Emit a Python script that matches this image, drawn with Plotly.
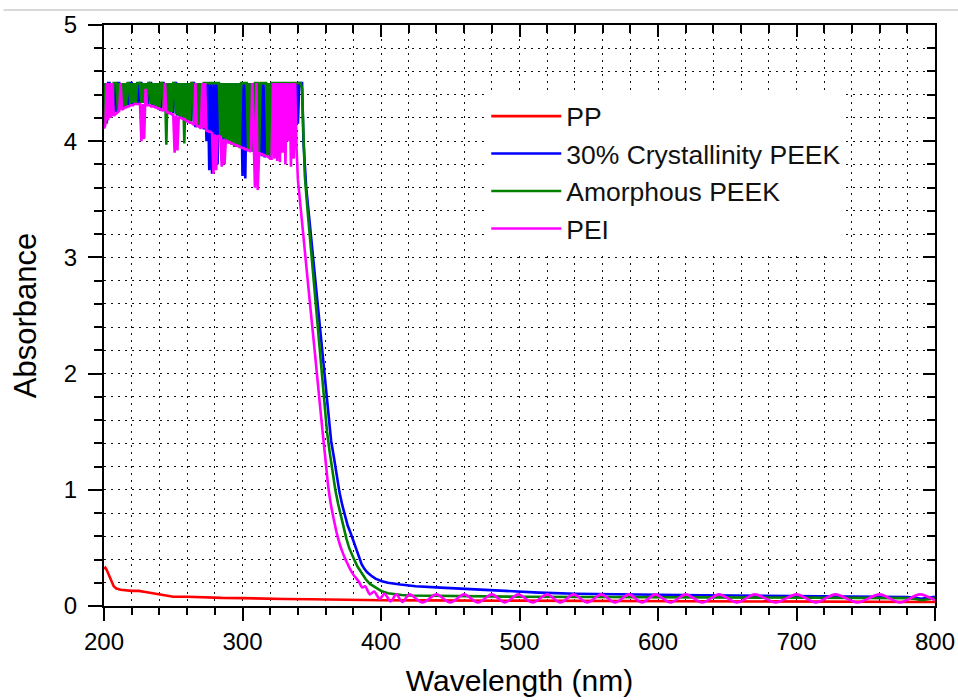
import plotly.graph_objects as go

# ---------------- data ----------------
# PP (red)
wl_pp = [200, 201, 202, 203, 205, 207, 209, 212, 220, 225, 230, 235, 240, 245, 250, 260, 270,
         285, 300, 315, 330, 350, 365, 380, 400, 430, 500, 600, 700, 800]
abs_pp = [0.32, 0.33, 0.31, 0.28, 0.22, 0.17, 0.15, 0.14, 0.13, 0.13, 0.12, 0.11, 0.10, 0.09,
          0.08, 0.08, 0.075, 0.07, 0.068, 0.063, 0.06, 0.058, 0.055, 0.05, 0.05, 0.048, 0.045,
          0.04, 0.038, 0.035]

# 30% Crystallinity PEEK (blue)
wl_peek30 = list(range(200, 344)) + [344, 346, 348, 350, 352, 354, 356, 358, 360, 362, 364, 366,
                                     368, 370, 372, 374, 376, 378, 380, 382, 384, 386, 388, 390,
                                     393, 396, 400, 405, 414, 425, 443, 464, 490, 514, 540, 564,
                                     600, 632, 664, 700, 730, 750, 770, 780, 786, 790, 795, 800]
abs_peek30 = [
    4.12, 4.5, 4.16, 4.5, 4.5, 4.21, 4.5, 4.23, 4.5, 4.25,
    4.5, 4.5, 4.28, 4.5, 4.29, 4.5, 4.3, 4.5, 4.31, 4.5,
    4.5, 4.32, 4.5, 4.33, 4.5, 4.33, 4.5, 4.5, 4.33, 4.5,
    4.32, 4.5, 4.32, 4.5, 4.5, 4.31, 4.5, 4.3, 4.5, 4.29,
    4.5, 4.28, 4.5, 4.5, 4.27, 4.5, 4.26, 4.5, 4.25, 4.5,
    4.24, 4.5, 4.5, 4.22, 4.5, 4.21, 4.5, 4.2, 4.5, 4.19,
    4.5, 4.18, 4.5, 4.17, 4.5, 4.5, 4.12, 4.5, 4.14, 4.5,
    4.12, 4.5, 4.1, 4.5, 4.0, 4.5, 3.75, 4.5, 3.72, 4.5,
    3.9, 4.5, 3.8, 4.5, 4.04, 4.5, 4.02, 4.5, 4.0, 4.5,
    3.99, 4.5, 3.98, 4.5, 3.97, 4.5, 3.96, 4.5, 3.95, 4.5,
    3.7, 4.5, 3.68, 4.5, 3.93, 4.5, 3.92, 4.5, 3.91, 4.5,
    3.95, 4.5, 3.9, 4.5, 3.87, 4.5, 3.86, 4.5, 3.88, 4.5,
    3.86, 4.5, 4.2, 4.5, 4.1, 4.5, 4.3, 4.5, 4.1, 4.5,
    4.35, 4.5, 4.2, 4.5, 4.1, 4.5, 4.12, 4.5, 4.1, 4.5,
    4.15, 4.5, 4.5, 4.5,
    4.0, 3.6, 3.36, 3.11, 2.87, 2.62, 2.37, 2.13, 1.88, 1.63, 1.42, 1.28,
    1.12, 0.98, 0.87, 0.77, 0.69, 0.63, 0.56, 0.49, 0.42, 0.36, 0.32, 0.29,
    0.26, 0.235, 0.215, 0.2, 0.185, 0.17, 0.158, 0.145, 0.128, 0.115, 0.106, 0.1,
    0.097, 0.093, 0.09, 0.087, 0.085, 0.082, 0.08, 0.078, 0.07, 0.062, 0.07, 0.08]

# Amorphous PEEK (green)
wl_peek_am = list(range(200, 344)) + [344, 345, 347, 349, 351, 353, 355, 357, 359, 361, 363, 365,
                                      367, 369, 371, 373, 375, 377, 379, 381, 383, 386, 389, 392,
                                      396, 400, 405, 410, 415, 420, 430, 445, 460, 480, 500, 550,
                                      600, 650, 700, 750, 780, 786, 790, 795, 800]
abs_peek_am = [
    4.12, 4.5, 4.15, 4.5, 4.2, 4.5, 4.22, 4.5, 4.5, 4.5,
    4.26, 4.5, 4.27, 4.5, 4.3, 4.5, 4.3, 4.5, 4.5, 4.32,
    4.5, 4.33, 4.5, 4.33, 4.5, 4.5, 4.5, 4.33, 4.5, 4.33,
    4.5, 4.32, 4.5, 4.5, 4.32, 4.5, 4.31, 4.5, 4.3, 4.5,
    4.29, 4.5, 4.5, 4.28, 4.5, 3.97, 4.5, 4.25, 4.5, 4.25,
    4.5, 4.5, 4.23, 4.5, 4.22, 4.5, 4.21, 4.5, 3.98, 4.5,
    4.18, 4.5, 4.17, 4.5, 4.5, 4.15, 4.5, 4.14, 4.5, 4.13,
    4.5, 4.12, 4.5, 4.5, 4.5, 4.5, 4.5, 4.5, 4.5, 4.5,
    4.5, 4.5, 4.5, 4.5, 4.05, 4.5, 4.03, 4.5, 4.0, 4.5,
    3.98, 4.5, 3.97, 4.5, 3.95, 4.5, 3.95, 4.5, 3.94, 4.5,
    4.5, 4.5, 4.5, 4.5, 3.93, 4.5, 3.92, 4.5, 3.91, 4.5,
    4.5, 4.5, 3.9, 4.5, 4.5, 4.5, 4.5, 4.5, 3.88, 4.5,
    3.87, 4.5, 4.5, 4.5, 4.5, 4.5, 4.5, 4.5, 4.5, 4.5,
    4.5, 4.5, 4.5, 4.5, 4.5, 4.5, 4.5, 4.5, 4.5, 4.5,
    4.5, 4.5, 4.5, 4.45,
    4.0, 3.7, 3.4, 3.13, 2.86, 2.59, 2.32, 2.04, 1.77, 1.5, 1.32, 1.15,
    1.0, 0.88, 0.77, 0.67, 0.58, 0.5, 0.44, 0.39, 0.34, 0.28, 0.23, 0.19,
    0.16, 0.13, 0.11, 0.1, 0.095, 0.09, 0.088, 0.085, 0.085, 0.082, 0.08, 0.078,
    0.075, 0.075, 0.072, 0.07, 0.068, 0.06, 0.05, 0.058, 0.068]

# PEI (magenta) - saturated / noisy part
wl_pei_noisy = list(range(200, 341))
abs_pei_noisy = [
    4.11, 4.14, 4.5, 4.18, 4.5, 4.2, 4.5, 4.22, 4.23, 4.24,
    4.25, 4.26, 4.5, 4.27, 4.28, 4.29, 4.29, 4.3, 4.3, 4.31,
    4.31, 4.31, 4.32, 4.32, 4.32, 4.32, 4.32, 4.0, 4.32, 4.02,
    4.45, 4.31, 4.31, 4.31, 4.3, 4.3, 4.3, 4.29, 4.29, 4.28,
    4.28, 4.27, 4.27, 4.26, 4.5, 4.25, 4.25, 4.24, 4.24, 4.23,
    4.23, 3.9, 4.22, 3.92, 4.21, 4.2, 4.2, 4.19, 4.19, 4.18,
    4.17, 4.17, 4.16, 4.16, 4.15, 4.14, 4.5, 4.13, 4.13, 4.12,
    4.11, 4.5, 4.11, 4.5, 4.09, 4.09, 4.08, 4.08, 4.07, 3.72,
    4.06, 3.75, 4.05, 4.04, 4.04, 3.78, 4.02, 3.8, 4.01, 4.0,
    3.99, 3.99, 3.98, 3.98, 3.97, 3.97, 3.96, 3.96, 3.95, 3.95,
    3.94, 3.94, 3.93, 3.93, 3.92, 3.92, 3.91, 4.5, 3.91, 3.6,
    4.5, 3.58, 3.9, 3.89, 3.89, 3.88, 3.88, 3.87, 3.87, 3.86,
    3.85, 3.85, 4.5, 3.85, 4.5, 3.83, 4.5, 3.82, 4.5, 3.9,
    4.5, 3.8, 4.5, 4.0, 4.5, 3.78, 4.5, 3.85, 4.5, 3.95,
    3.67]

# PEI (magenta) - absorption edge and interference fringes
wl_pei_tail = [340, 344, 348, 352, 356, 358, 360, 362, 364, 366, 368, 370, 372, 374, 376, 378,
               380, 382, 384, 386.5, 388.5, 392, 395, 399, 402.5, 407, 411, 415.5, 420.5, 430,
               440, 450, 460, 470, 480, 489.5, 499, 509.5, 520, 529.5, 539, 549, 559, 569, 579,
               588.5, 598, 609, 620, 632, 644, 657, 670, 685, 700, 714, 728, 744, 760, 774.5,
               789, 800]
abs_pei_tail = [3.67, 3.18, 2.69, 2.21, 1.72, 1.48, 1.25, 1.02, 0.86, 0.74, 0.63, 0.54, 0.47,
                0.41, 0.36, 0.31, 0.27, 0.24, 0.21, 0.16, 0.17, 0.1, 0.125, 0.06, 0.105, 0.04,
                0.1, 0.035, 0.1, 0.03, 0.1, 0.03, 0.1, 0.03, 0.1, 0.03, 0.1, 0.03, 0.1, 0.03,
                0.1, 0.03, 0.1, 0.03, 0.1, 0.03, 0.1, 0.03, 0.1, 0.03, 0.1, 0.03, 0.1, 0.03,
                0.1, 0.03, 0.1, 0.03, 0.1, 0.03, 0.1, 0.05]

x_ticks = [200, 300, 400, 500, 600, 700, 800]
y_ticks = [0, 1, 2, 3, 4, 5]

FONT = "Liberation Sans, Arial, Helvetica, sans-serif"
LW = 2.6

fig = go.Figure()
fig.add_trace(go.Scatter(x=wl_pp, y=abs_pp, mode="lines", name="PP",
                         line=dict(color="#ff0000", width=LW)))
fig.add_trace(go.Scatter(x=wl_peek30, y=abs_peek30, mode="lines", name="30% Crystallinity PEEK",
                         line=dict(color="#0000ff", width=LW)))
fig.add_trace(go.Scatter(x=wl_peek_am, y=abs_peek_am, mode="lines", name="Amorphous PEEK",
                         line=dict(color="#008000", width=LW)))
fig.add_trace(go.Scatter(x=wl_pei_noisy, y=abs_pei_noisy, mode="lines", name="PEI",
                         legendgroup="pei", line=dict(color="#ff00ff", width=LW)))
fig.add_trace(go.Scatter(x=wl_pei_tail, y=abs_pei_tail, mode="lines", name="PEI",
                         legendgroup="pei", showlegend=False,
                         line=dict(color="#ff00ff", width=LW, shape="spline", smoothing=0.8)))
# carrier for the mirrored (top / right) axes
fig.add_trace(go.Scatter(x=[None], y=[None], xaxis="x2", yaxis="y2", showlegend=False,
                         hoverinfo="skip"))

grid = dict(showgrid=True, gridcolor="#111111", griddash="2px,5px", gridwidth=1.3)

fig.update_layout(
    width=958, height=700,
    margin=dict(l=104, r=23, t=25, b=94),
    paper_bgcolor="white", plot_bgcolor="white",
    font=dict(family=FONT, color="black"),
    showlegend=True,
    legend=dict(x=0.46, y=0.884, xanchor="left", yanchor="top", bgcolor="white",
                font=dict(size=26.5, family=FONT, color="#111111"), itemwidth=70,
                tracegroupgap=0),
    xaxis=dict(range=[200, 800], tickvals=x_ticks, showline=True, linecolor="black",
               linewidth=2, ticks="outside", ticklen=13, tickwidth=2, tickcolor="black",
               zeroline=False, tickfont=dict(size=24, family=FONT), automargin=False,
               ticklabeloverflow="allow",
               minor=dict(dtick=20, ticks="outside", ticklen=7, tickwidth=2, tickcolor="black",
                          **grid),
               title=dict(text="Wavelength (nm)", font=dict(size=30, family=FONT), standoff=16),
               **grid),
    yaxis=dict(range=[0, 5], tickvals=y_ticks, showline=True, linecolor="black",
               linewidth=2, ticks="outside", ticklen=14, tickwidth=2, tickcolor="black",
               zeroline=False, tickfont=dict(size=24, family=FONT), ticklabelstandoff=6,
               automargin=False, ticklabeloverflow="allow",
               minor=dict(dtick=0.2, ticks="outside", ticklen=8, tickwidth=2, tickcolor="black",
                          **grid),
               title=dict(text="Absorbance", font=dict(size=31, family=FONT), standoff=18),
               **grid),
    xaxis2=dict(overlaying="x", side="top", range=[200, 800], tickvals=x_ticks,
                showline=True, linecolor="black", linewidth=2, ticks="inside", ticklen=12,
                tickwidth=2, tickcolor="black", showticklabels=False, showgrid=False,
                zeroline=False, automargin=False,
                minor=dict(dtick=20, ticks="inside", ticklen=8, tickwidth=2, tickcolor="black",
                           showgrid=False)),
    yaxis2=dict(overlaying="y", side="right", range=[0, 5], tickvals=y_ticks,
                showline=True, linecolor="black", linewidth=2, ticks="inside", ticklen=12,
                tickwidth=2, tickcolor="black", showticklabels=False, showgrid=False,
                zeroline=False, automargin=False,
                minor=dict(dtick=0.2, ticks="inside", ticklen=8, tickwidth=2, tickcolor="black",
                           showgrid=False)),
    shapes=[dict(type="line", xref="paper", yref="paper", x0=-0.121, x1=1.04, y0=1.026,
                 y1=1.026, line=dict(color="#cccccc", width=1.5))],
)

fig.write_html("out.html")
